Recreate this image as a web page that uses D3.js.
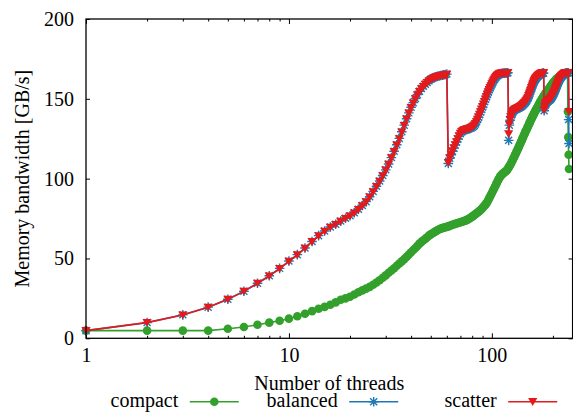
<!DOCTYPE html>
<html><head><meta charset="utf-8">
<script src="https://cdn.jsdelivr.net/npm/d3@7/dist/d3.min.js"></script>
<style>
html,body{margin:0;padding:0;background:#fff;}
</style></head>
<body>
<svg id="chart" width="573" height="413"></svg>
<script>
// ---- data (threads 1..240) ----
const threads = d3.range(1, 241);
const compact = [
4.8,4.8,4.8,4.8,6.0,7.1,8.5,9.8,11.0,12.3,
13.8,15.4,17.0,18.5,19.7,21.0,22.5,24.1,25.0,26.0,
27.4,28.8,30.0,31.1,32.2,33.5,34.9,36.4,37.9,39.4,
41.1,42.5,43.9,45.4,46.8,48.2,49.6,51.0,52.5,53.9,
55.3,56.6,57.9,59.3,60.4,61.4,62.3,63.3,64.3,65.1,
65.8,66.5,67.1,67.7,68.3,68.7,69.0,69.3,69.6,69.8,
70.1,70.4,70.8,71.1,71.4,71.7,71.9,72.2,72.4,72.7,
73.0,73.2,73.5,73.7,74.0,74.4,74.8,75.3,75.7,76.2,
76.7,77.2,77.7,78.3,78.8,79.3,79.8,80.4,81.0,81.7,
82.4,83.1,83.8,84.5,85.5,86.6,87.7,88.8,89.9,91.0,
92.1,93.2,94.3,95.4,96.5,97.6,98.7,99.7,100.6,101.4,
102.0,102.5,103.0,103.4,103.8,104.2,104.6,105.0,105.4,106.4,
107.0,107.7,108.5,109.3,110.2,111.1,112.0,112.9,113.8,114.7,
115.6,116.5,117.4,118.3,119.2,120.1,121.0,121.9,122.8,123.7,
124.6,125.5,126.4,127.3,128.2,129.0,129.8,130.6,131.4,132.2,
133.0,133.8,134.6,135.4,136.2,137.0,137.7,138.4,139.1,139.8,
140.5,141.2,141.9,142.5,143.1,143.7,144.3,144.9,145.5,146.1,
146.7,147.3,147.9,148.5,149.0,149.5,150.0,150.5,151.0,151.5,
152.0,152.5,153.0,153.4,153.8,154.2,154.6,155.0,155.4,155.8,
156.2,156.6,157.0,157.4,157.8,158.2,158.6,159.0,159.4,159.8,
160.1,160.4,160.7,161.0,161.3,161.6,161.9,162.2,162.5,162.8,
163.0,163.2,163.4,163.6,163.8,164.0,164.2,164.4,164.5,164.7,
164.8,164.9,165.0,165.1,165.2,165.3,165.4,165.5,165.6,165.7,
165.8,165.9,166.0,166.1,166.2,166.3,142.0,126.0,115.0,106.0];
const balanced = [
4.8,9.9,14.7,19.5,24.5,29.5,34.5,39.2,43.8,48.4,
52.4,56.6,60.6,64.3,67.2,69.7,71.4,73.4,75.2,76.8,
78.6,80.8,83.2,85.6,88.7,92.0,95.2,98.5,102.0,105.5,
109.2,113.2,117.2,121.2,125.2,129.4,133.5,137.5,141.2,144.7,
147.6,150.2,152.6,154.7,156.5,157.9,159.2,160.3,161.3,162.2,
162.9,163.4,163.8,164.1,164.4,164.6,164.8,165.0,165.2,165.5,
109.5,112.8,115.0,117.1,119.1,121.0,122.9,124.8,126.6,128.1,
129.2,129.9,130.3,130.6,130.8,131.0,131.2,131.4,131.8,132.2,
132.7,133.3,134.3,135.6,137.0,138.5,140.1,141.7,143.3,144.9,
146.5,148.1,149.7,151.2,152.7,154.1,155.5,156.8,158.0,159.2,
160.3,161.3,162.2,163.0,163.7,164.3,164.8,165.2,165.5,165.7,
165.8,165.9,166.0,166.0,166.1,166.1,166.2,166.2,166.3,166.3,
124.0,133.5,136.6,138.5,139.9,141.0,141.8,142.4,142.8,143.1,
143.4,143.6,143.8,144.0,144.2,144.4,144.6,144.8,145.1,145.4,
145.7,146.1,146.5,146.9,147.3,147.7,148.2,148.7,149.3,150.0,
150.7,151.7,152.7,153.7,154.7,155.7,156.7,157.7,158.7,159.5,
160.3,161.1,161.7,162.3,162.8,163.2,163.6,164.0,164.3,164.6,
164.9,165.1,165.3,165.5,165.7,165.8,165.9,166.0,166.1,166.1,
142.5,144.7,145.9,146.7,147.2,147.7,148.0,148.3,148.6,148.8,
149.0,149.2,149.4,149.7,150.0,150.4,150.8,151.3,151.8,152.3,
152.8,153.3,153.9,154.5,155.2,155.9,156.6,157.3,158.0,158.7,
159.4,160.0,160.6,161.2,161.7,162.2,162.7,163.1,163.5,163.8,
164.1,164.4,164.7,164.9,165.1,165.3,165.5,165.7,165.8,165.9,
166.0,166.1,166.1,166.2,166.2,166.3,166.3,166.3,137.0,122.0];
const scatter = [
4.8,9.8,14.6,19.4,24.4,29.4,34.4,39.0,43.6,48.2,
52.2,56.4,60.5,64.1,67.0,69.5,71.2,73.2,75.0,76.6,
78.4,80.6,83.0,85.4,88.5,91.8,95.0,98.3,101.8,105.3,
109.0,113.0,117.0,121.0,125.0,129.2,133.3,137.3,141.0,144.5,
147.4,150.0,152.4,154.5,156.3,157.7,159.0,160.1,161.1,162.0,
162.7,163.2,163.6,163.9,164.2,164.4,164.6,164.8,165.0,165.3,
110.0,113.0,115.2,117.3,119.3,121.2,123.1,125.0,126.8,128.3,
129.4,130.1,130.5,130.8,131.0,131.2,131.4,131.6,132.0,132.4,
132.9,133.5,134.5,135.8,137.2,138.7,140.3,141.9,143.5,145.1,
146.7,148.3,149.9,151.4,152.9,154.3,155.7,157.0,158.2,159.4,
160.5,161.5,162.4,163.2,163.9,164.5,165.0,165.4,165.7,165.9,
166.0,166.1,166.0,166.2,166.1,166.2,166.3,166.2,166.3,166.4,
128.0,134.0,137.0,138.8,140.2,141.3,142.1,142.7,143.1,143.4,
143.7,143.9,144.1,144.3,144.5,144.7,144.9,145.1,145.4,145.7,
146.0,146.4,146.8,147.2,147.6,148.0,148.5,149.0,149.6,150.3,
151.0,152.0,153.0,154.0,155.0,156.0,157.0,158.0,159.0,159.8,
160.6,161.4,162.0,162.6,163.1,163.5,163.9,164.3,164.6,164.9,
165.2,165.4,165.6,165.8,166.0,166.1,166.2,166.2,166.3,166.3,
143.0,145.0,146.2,147.0,147.5,148.0,148.3,148.6,148.9,149.1,
149.3,149.5,149.7,150.0,150.3,150.7,151.1,151.6,152.1,152.6,
153.1,153.6,154.2,154.8,155.5,156.2,156.9,157.6,158.3,159.0,
159.7,160.3,160.9,161.5,162.0,162.5,163.0,163.4,163.8,164.1,
164.4,164.7,165.0,165.2,165.4,165.6,165.8,166.0,166.1,166.2,
166.2,166.3,166.3,166.4,166.4,166.5,166.5,166.5,166.5,142.0];
const seriesNames = ["compact", "balanced", "scatter"];
const seriesColors = ["#33a02c", "#1f78b4", "#e31a1c"];
const xMajorTicks = [1, 10, 100];
const xMinorTicks = [2,3,4,5,6,7,8,9,20,30,40,50,60,70,80,90,200];
const yTicks = [0, 50, 100, 150, 200];
const xLabel = "Number of threads";
const yLabel = "Memory bandwidth [GB/s]";

// ---- layout ----
const FONT = "Liberation Serif";
const FS = 20;
const L = 86, R = 572.6, T = 19, B = 338.3;
const svg = d3.select("#chart");
const x = d3.scaleLog().domain([1, 250]).range([L, R]);
const y = d3.scaleLinear().domain([0, 200]).range([B, T]);

function styleAxis(g){
  g.attr("font-family", null).attr("font-size", null);
  g.select(".domain").remove();
  g.selectAll("line").attr("stroke","#000").attr("stroke-width",1);
  g.selectAll("text").style("font-family",FONT).style("font-size",FS+"px").attr("fill","#000");
}
svg.append("g").attr("transform",`translate(0,${B})`)
  .call(d3.axisBottom(x).tickValues(xMajorTicks).tickFormat(d3.format("d")).tickSizeInner(-5).tickSizeOuter(0).tickPadding(10)).call(styleAxis);
svg.append("g").attr("transform",`translate(0,${B})`)
  .call(d3.axisBottom(x).tickValues(xMinorTicks).tickFormat("").tickSizeInner(-2.5).tickSizeOuter(0)).call(styleAxis);
svg.append("g").attr("transform",`translate(0,${T})`)
  .call(d3.axisTop(x).tickValues(xMajorTicks).tickFormat("").tickSizeInner(-5).tickSizeOuter(0)).call(styleAxis);
svg.append("g").attr("transform",`translate(0,${T})`)
  .call(d3.axisTop(x).tickValues(xMinorTicks).tickFormat("").tickSizeInner(-2.5).tickSizeOuter(0)).call(styleAxis);
svg.append("g").attr("transform",`translate(${L},0)`)
  .call(d3.axisLeft(y).tickValues(yTicks).tickFormat(d3.format("d")).tickSizeInner(-4).tickSizeOuter(0).tickPadding(12)).call(styleAxis);
svg.append("g").attr("transform",`translate(${R},0)`)
  .call(d3.axisRight(y).tickValues(yTicks).tickFormat("").tickSizeInner(-4).tickSizeOuter(0)).call(styleAxis);

// series
const data = [compact, balanced, scatter];
const line = d3.line().x((d,i)=>x(threads[i])).y(d=>y(d));
const asterisk = "M-4.8,0H4.8M0,-4.8V4.8M-3.5,-3.5L3.5,3.5M-3.5,3.5L3.5,-3.5";
const triDown = "M-4.6,-3.6L4.6,-3.6L0,4.2Z";
function marker(g, k, c){
  if(k===0) g.append("circle").attr("r",4.3).attr("fill",c);
  else if(k===1) g.append("path").attr("d",asterisk).attr("stroke",c).attr("stroke-width",1.4).attr("fill","none");
  else g.append("path").attr("d",triDown).attr("fill",c);
}
const plot = svg.append("g");
data.forEach((vals,k)=>{
  const c = seriesColors[k];
  plot.append("path").datum(vals).attr("d",line).attr("fill","none").attr("stroke",c).attr("stroke-width",1.6);
  const pts = plot.append("g");
  vals.forEach((v,i)=>{
    const g = pts.append("g").attr("transform",`translate(${x(threads[i])},${y(v)})`);
    marker(g,k,c);
  });
});

// border
svg.append("rect").attr("x",L).attr("y",T).attr("width",R-L).attr("height",B-T)
  .attr("fill","none").attr("stroke","#000").attr("stroke-width",1.3);

// labels
function txt(){ return svg.append("text").style("font-family",FONT).style("font-size",FS+"px").attr("fill","#000"); }
txt().attr("x",(L+R)/2).attr("y",390).attr("text-anchor","middle").text(xLabel);
txt().attr("transform",`translate(28.5,${(T+B)/2}) rotate(-90)`).attr("text-anchor","middle").text(yLabel);

// legend
const legendRight = [178.3, 337.7, 496.7];
seriesNames.forEach((name,k)=>{
  const c = seriesColors[k];
  const xr = legendRight[k];
  txt().attr("x",xr).attr("y",407).attr("text-anchor","end").text(name);
  svg.append("line").attr("x1",xr+11.5).attr("x2",xr+60.5).attr("y1",401.7).attr("y2",401.7).attr("stroke",c).attr("stroke-width",1.6);
  const g = svg.append("g").attr("transform",`translate(${xr+36},401.7)`);
  marker(g,k,c);
});
</script>
</body></html>
